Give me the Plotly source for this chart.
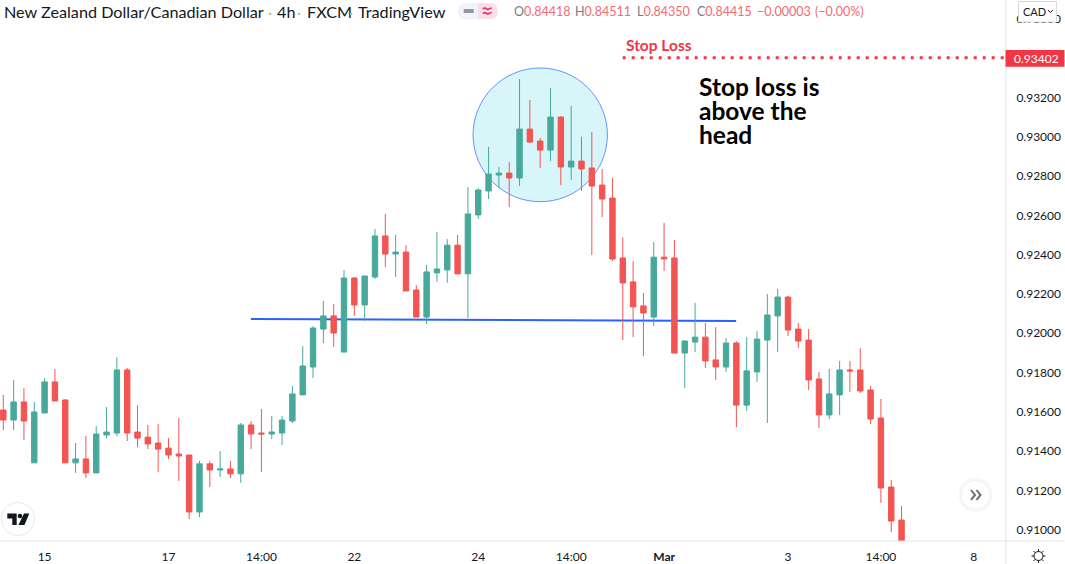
import plotly.graph_objects as go

# ---------- data (prices) ----------
opens = [.91609,.91558,.91650,.91340,.91594,.91752,.91660,.91340,.91360,.91289,
         .91482,.91492,.91813,.91497,.91471,.91441,.91415,.91385,.91380,.91090,
         .91335,.91304,.91309,.91284,.91533,.91492,.91487,.91492,.91553,.91686,
         .91828,.92021,.92088,.91904,.92281,.92144,.92286,.92495,.92403,.92413,
         .92220,.92082,.92307,.92322,.92448,.92302,.92602,.92724,.92805,.92815,
         .92790,.93039,.92978,.92932,.93100,.92846,.92876,.92841,.92754,.92688,
         .92383,.92261,.92139,.92082,.92387,.92383,.91899,.91955,.91980,.91864,
         .91828,.91950,.91634,.91803,.91965,.92088,.92184,.92021,.91965,.91767,
         .91584,.91686,.91813,.91813,.91711,.91568,.91217,.91049]
highs = [.91686,.91762,.91721,.91650,.91772,.91818,.91665,.91441,.91477,.91527,
         .91624,.91878,.91823,.91634,.91533,.91538,.91466,.91568,.91380,.91350,
         .91350,.91400,.91350,.91543,.91553,.91614,.91578,.91578,.91731,.91934,
         .92036,.92164,.92149,.92322,.92286,.92291,.92530,.92607,.92500,.92448,
         .92245,.92347,.92515,.92479,.92500,.92744,.92739,.92948,.92846,.92871,
         .93294,.93187,.92994,.93248,.93106,.93156,.92999,.93024,.92836,.92790,
         .92489,.92367,.92205,.92464,.92561,.92474,.91965,.92154,.92052,.92031,
         .91975,.91960,.91980,.92011,.92200,.92225,.92189,.92052,.92021,.91803,
         .91818,.91859,.91859,.91924,.91731,.91665,.91253,.91120]
lows = [.91507,.91507,.91456,.91340,.91594,.91655,.91340,.91289,.91263,.91289,
        .91466,.91477,.91451,.91420,.91410,.91294,.91360,.91248,.91054,.91064,
        .91217,.91268,.91263,.91238,.91410,.91294,.91461,.91431,.91543,.91686,
        .91772,.91950,.91930,.91904,.92088,.92062,.92276,.92337,.92286,.92215,
        .92082,.92046,.92261,.92256,.92302,.92077,.92581,.92683,.92744,.92642,
        .92749,.92968,.92841,.92876,.92754,.92780,.92724,.92398,.92591,.92367,
        .91965,.91980,.91883,.92036,.92317,.91899,.91721,.91904,.91823,.91762,
        .91803,.91522,.91604,.91752,.91543,.91904,.91985,.91924,.91711,.91517,
        .91563,.91584,.91701,.91696,.91538,.91136,.90988,.90845]
closes = [.91558,.91650,.91553,.91599,.91752,.91655,.91340,.91360,.91289,.91487,
          .91497,.91813,.91492,.91466,.91436,.91410,.91380,.91375,.91090,.91335,
          .91304,.91309,.91284,.91533,.91487,.91487,.91497,.91558,.91691,.91833,
          .92026,.92088,.92001,.92281,.92144,.92291,.92495,.92403,.92413,.92215,
          .92082,.92312,.92327,.92448,.92302,.92607,.92729,.92810,.92815,.92790,
          .93039,.92973,.92932,.93100,.92846,.92876,.92836,.92749,.92683,.92378,
          .92256,.92134,.92103,.92387,.92378,.91899,.91960,.91980,.91859,.91828,
          .91950,.91634,.91808,.91970,.92093,.92184,.92016,.91960,.91762,.91584,
          .91691,.91813,.91808,.91706,.91563,.91212,.91044,.90896]

price_ticks = [.910,.912,.914,.916,.918,.920,.922,.924,.926,.928,.930,.932,.936]
price_labels = ["0.91000","0.91200","0.91400","0.91600","0.91800","0.92000","0.92200",
                "0.92400","0.92600","0.92800","0.93000","0.93200","0.93600"]
time_ticks = [4,16,25,34,46,55,64,76,85,94]
time_labels = ["15","17","14:00","22","24","14:00","<b>Mar</b>","3","14:00","8"]
stop_price = 0.93402
neckline_x = [23.98,70.98]
neckline_y = [.92072,.92062]

# ---------- frame ----------
W,H = 1065,564
AX_X,AX_Y = 1006.5,541
FONT = "Lato"
INK = "#131722"
LINE = "#e0e3eb"
UP,DOWN = "#48a99b","#f25552"
RED = "#f23645"
px = lambda x: x/AX_X
py = lambda y: 1-y/AX_Y
X0,DX = 3.3,10.33
xrange_ = [(0-X0)/DX,(AX_X-X0)/DX]
price_at = lambda y: 0.93696-0.0000509*y

fig = go.Figure(go.Candlestick(
    x=list(range(len(opens))),open=opens,high=highs,low=lows,close=closes,
    increasing=dict(line=dict(color=UP,width=1),fillcolor=UP),
    decreasing=dict(line=dict(color=DOWN,width=1),fillcolor=DOWN),
    whiskerwidth=0,hoverinfo="skip",showlegend=False))

shapes,anns = [],[]
def pshape(**k):
    k.setdefault("xref","paper");k.setdefault("yref","paper");shapes.append(k)
def prect(x0,y0,x1,y1,**k):
    pshape(type="rect",x0=px(x0),x1=px(x1),y0=py(y0),y1=py(y1),**k)
def pcircle(cx,cy,r,**k):
    pshape(type="circle",x0=px(cx-r),x1=px(cx+r),y0=py(cy-r),y1=py(cy+r),**k)
def ppath(pts,close=False,**k):
    d="M"+" L".join(f"{px(a):.5f},{py(b):.5f}" for a,b in pts)+(" Z" if close else "")
    pshape(type="path",path=d,**k)
def text(x,y,s,size,color=INK,xa="left",bold=False):
    anns.append(dict(xref="paper",yref="paper",x=px(x-1 if xa=="left" else x),y=py(y),text=f"<b>{s}</b>" if bold else s,
        showarrow=False,xanchor=xa,yanchor="middle",borderpad=0,
        font=dict(family=FONT,size=size,color=color)))

# head circle, neckline (beneath the candles)
shapes.append(dict(type="circle",xref="x",yref="y",layer="below",
    x0=(473.3-X0)/DX,x1=(607.7-X0)/DX,y0=price_at(201.7),y1=price_at(68),
    fillcolor="#d8f5f9",line=dict(color="#6494f8",width=1)))
shapes.append(dict(type="line",xref="x",yref="y",layer="below",
    x0=neckline_x[0],x1=neckline_x[1],y0=neckline_y[0],y1=neckline_y[1],
    line=dict(color="#2962ff",width=2)))
# stop loss line
shapes.append(dict(type="line",xref="x",yref="y",x0=(623-X0)/DX,x1=xrange_[1],
    y0=stop_price,y1=stop_price,line=dict(color=RED,width=3,dash="3px,6px")))
# axis rules
pshape(type="line",x0=px(AX_X),x1=px(AX_X),y0=py(0),y1=py(H),line=dict(color=LINE,width=1))
pshape(type="line",x0=0,x1=px(W),y0=py(AX_Y),y1=py(AX_Y),line=dict(color=LINE,width=1))
# price label
prect(1006,50,1065,66.7,fillcolor=RED,line=dict(width=0))
text(1037,58.5,"0.93402",12,"#ffffff",xa="center")
# CAD button
pshape(type="rect",x0=px(1019),x1=px(1057),y0=py(1.5),y1=py(22),fillcolor="#ffffff",
       line=dict(color="#d6d8de",width=1))
text(1024,11,"CAD",11)
ppath([(1048.5,10),(1051,12.5),(1053.5,10)],line=dict(color=INK,width=1))
# pill
pshape(type="path",path=f"M{px(478):.5f},{py(3):.5f} L{px(466):.5f},{py(3):.5f} Q{px(458):.5f},{py(3):.5f} {px(458):.5f},{py(11):.5f} Q{px(458):.5f},{py(19):.5f} {px(466):.5f},{py(19):.5f} L{px(478):.5f},{py(19):.5f} Z",
       fillcolor="#f0f3fa",line=dict(width=0))
pshape(type="path",path=f"M{px(478):.5f},{py(3):.5f} L{px(490):.5f},{py(3):.5f} Q{px(498):.5f},{py(3):.5f} {px(498):.5f},{py(11):.5f} Q{px(498):.5f},{py(19):.5f} {px(490):.5f},{py(19):.5f} L{px(478):.5f},{py(19):.5f} Z",
       fillcolor="#fbdfe8",line=dict(width=0))
ppath([(464,11),(474,11)],line=dict(color="#9598a1",width=4))
ppath([(483,9),(485,8),(488,9.5),(490,8.5),(492,8)],line=dict(color="#e8356f",width=1.6))
ppath([(483,13.5),(485,12.5),(488,14),(490,13),(492,12.5)],line=dict(color="#e8356f",width=1.6))
# TV logo button
pcircle(18,519,16.5,fillcolor="#ffffff",line=dict(color="#e8e9ec",width=1))
ppath([(7.3,513.5),(16.7,513.5),(16.7,525),(12.3,525),(12.3,518.5),(7.3,518.5)],close=True,fillcolor=INK,line=dict(width=0))
pcircle(20,516,2.3,fillcolor=INK,line=dict(width=0))
ppath([(24,513.5),(29.3,513.5),(24.5,525),(18.5,525)],close=True,fillcolor=INK,line=dict(width=0))
# scroll button
pcircle(976,495,17,fillcolor="#f7f7f8",line=dict(width=0))
pcircle(976,495,15,fillcolor="#f1f1f3",line=dict(width=0))
pcircle(976,495,14,fillcolor="#ffffff",line=dict(width=0))
ppath([(971.5,490),(975.5,495),(971.5,500)],line=dict(color="#6a6d78",width=2))
ppath([(977,490),(981,495),(977,500)],line=dict(color="#6a6d78",width=2))
# settings gear
pcircle(1039,556,4.5,line=dict(color=INK,width=1),fillcolor="rgba(0,0,0,0)")
for a,b,c,d in [(1039,549,1039,551.5),(1039,560.5,1039,563),(1032,556,1034.5,556),(1043.5,556,1046,556),
                (1034,551,1035.8,552.8),(1044,551,1042.2,552.8),(1034,561,1035.8,559.2),(1044,561,1042.2,559.2)]:
    ppath([(a,b),(c,d)],line=dict(color=INK,width=1))

# header texts
text(4,11,"New Zealand Dollar/Canadian Dollar",16.2)
text(268,11,"·",16,"#b2b5be")
text(277,11,"4h",16.2)
text(297,11,"·",16,"#b2b5be")
text(307,11,"FXCM",16.2)
text(349,11,"·",16,"#b2b5be")
text(358,11,"TradingView",16.2)
G,R = "#787b86","#f26a70"
def g(s): return f'<span style="color:{G}">{s}</span>'
def r(s): return f'<span style="color:{R}">{s}</span>'
text(514,12,g("O")+r("0.84418"),12.5)
text(575,12,g("H")+r("0.84511"),12.5)
text(637,12,g("L")+r("0.84350"),12.5)
text(697,12,g("C")+r("0.84415"),12.5)
text(757,12,r("−0.00003"),12.5)
text(815,12,r("(−0.00%)"),12.5)
# chart notes
text(626,45,"Stop Loss",15.5,RED,bold=True)
text(699,86.5,"Stop loss is",24.5,"#000000",bold=True)
text(699,110.5,"above the",24.5,"#000000",bold=True)
text(699,134,"head",24.5,"#000000",bold=True)

fig.update_layout(width=W,height=H,autosize=False,margin=dict(l=0,r=W-AX_X,t=0,b=H-AX_Y),
    paper_bgcolor="#ffffff",plot_bgcolor="#ffffff",boxgap=0.25,shapes=shapes,annotations=anns,
    font=dict(family=FONT,size=12,color=INK),showlegend=False,
    xaxis=dict(range=xrange_,rangeslider=dict(visible=False),showgrid=False,zeroline=False,showline=False,automargin=False,
               tickmode="array",tickvals=time_ticks,ticktext=time_labels,ticks="outside",ticklen=5,
               tickcolor="rgba(0,0,0,0)",tickfont=dict(family=FONT,size=12,color=INK)),
    yaxis=dict(side="right",range=[price_at(AX_Y),price_at(0)],showgrid=False,zeroline=False,showline=False,automargin=False,
               tickmode="array",tickvals=price_ticks,ticktext=price_labels,ticks="outside",ticklen=7,
               tickcolor="rgba(0,0,0,0)",tickfont=dict(family=FONT,size=12,color=INK)))
fig.write_html("out.html",config=dict(displayModeBar=False),
               post_script="document.body.style.margin='0';document.documentElement.style.overflow='hidden';")
